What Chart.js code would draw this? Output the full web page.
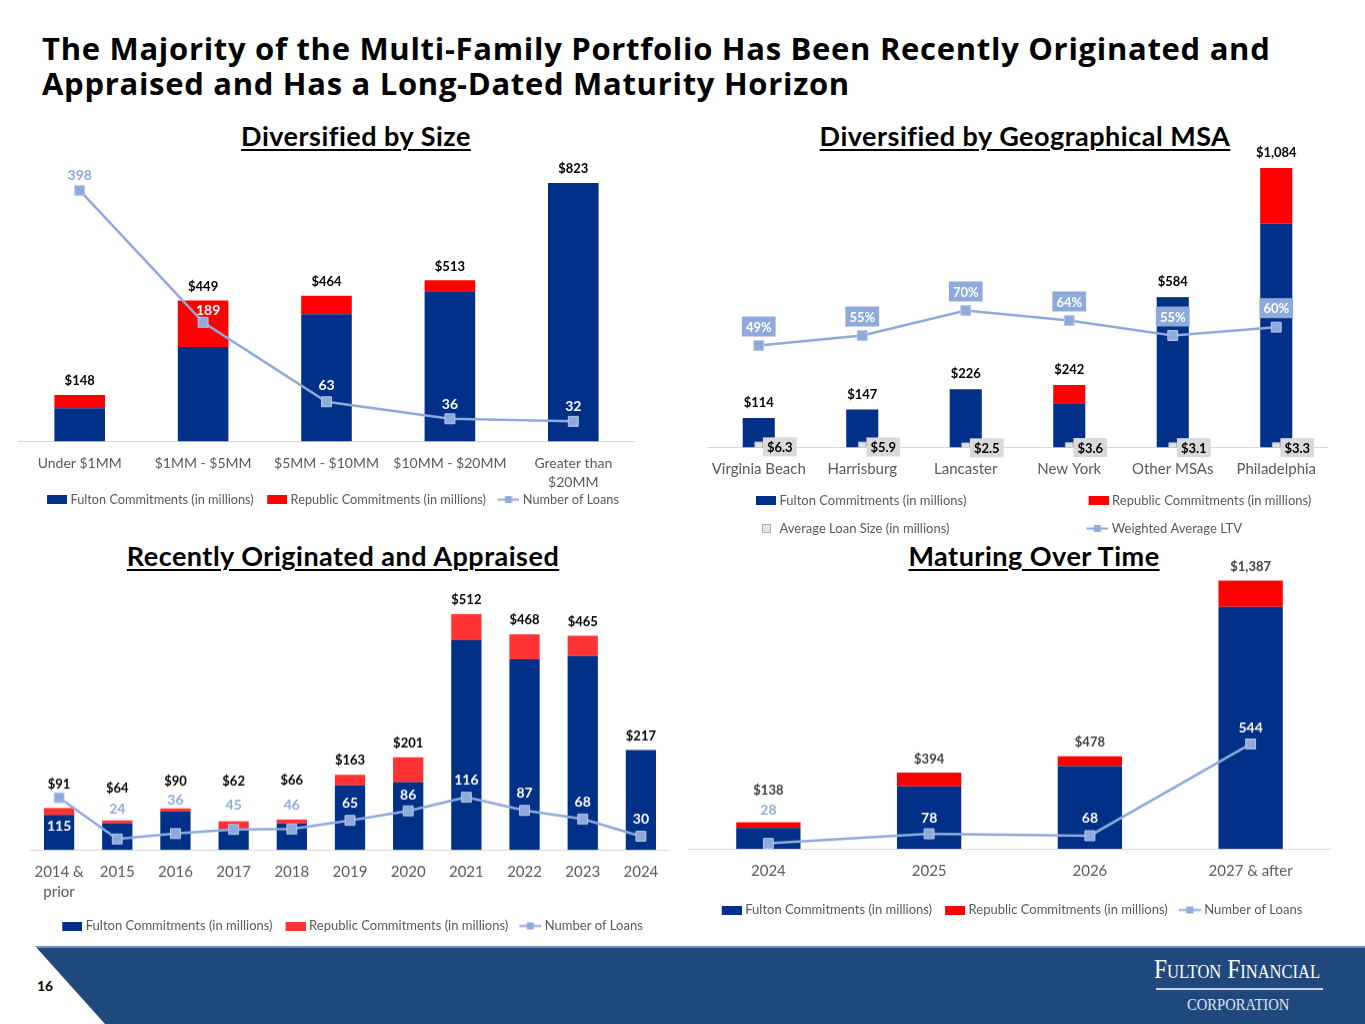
<!DOCTYPE html>
<html lang="en">
<head>
<meta charset="UTF-8">
<title>Multi-Family Portfolio</title>
<script src="https://cdn.jsdelivr.net/npm/chart.js@4.4.1/dist/chart.umd.min.js"></script>
<style>
    html, body { margin: 0; padding: 0; background: #fff; }
    body { width: 1365px; height: 1024px; position: relative; overflow: hidden; font-family: Lato, "Open Sans", sans-serif; }
    .titulo { position: absolute; left: 42px; top: 31px; font-family: "Open Sans", Lato, sans-serif; font-size: 31px; font-weight: 700; line-height: 35px; letter-spacing: 0.7px; color: #000; white-space: nowrap; }
    .subtitulo { position: absolute; width: 600px; text-align: center; font-size: 27px; font-weight: 700; line-height: 30px; letter-spacing: 0.5px; text-decoration: underline; text-underline-offset: 3px; text-decoration-thickness: 2px; white-space: nowrap; }
    .grafico { position: absolute; }
    .pie { position: absolute; left: 0; top: 946px; width: 1365px; height: 78px; background: linear-gradient(#6f8fb5 0, #6f8fb5 2px, #1f497d 2px); clip-path: polygon(35px 0, 1365px 0, 1365px 78px, 105px 78px); }
    .pagina { position: absolute; left: 37px; top: 977px; font-size: 14px; font-weight: 700; color: #000; }
    .logo1 { position: absolute; left: 1154px; top: 954px; font-family: "Liberation Serif", "DejaVu Serif", serif; font-variant: small-caps; font-size: 27px; color: #fff; white-space: nowrap; transform-origin: left top; transform: scaleX(0.87); }
    .logo-linea { position: absolute; left: 1156px; top: 988px; width: 167px; height: 2px; background: #c9d4e3; }
    .logo2 { position: absolute; left: 1187px; top: 995px; font-family: "Liberation Serif", "DejaVu Serif", serif; font-size: 17px; color: #dfe6f0; white-space: nowrap; transform-origin: left top; transform: scaleX(0.86); }
</style>
</head>
<body>
<div class="titulo">The Majority of the Multi-Family Portfolio Has Been Recently Originated and<br>Appraised and Has a Long-Dated Maturity Horizon</div>

<div class="subtitulo" style="left:56px; top:121px;">Diversified by Size</div>
<div class="subtitulo" style="left:725px; top:121px;">Diversified by Geographical MSA</div>
<div class="subtitulo" style="left:43px; top:541px;">Recently Originated and Appraised</div>
<div class="subtitulo" style="left:734px; top:541px;">Maturing Over Time</div>

<div class="grafico" style="left:18px; top:150px; width:617px; height:366px;"><canvas id="grafico-tamano"></canvas></div>
<div class="grafico" style="left:707px; top:140px; width:621px; height:405px;"><canvas id="grafico-msa"></canvas></div>
<div class="grafico" style="left:30px; top:575px; width:640px; height:366.5px;"><canvas id="grafico-anio"></canvas></div>
<div class="grafico" style="left:688px; top:552px; width:643px; height:373.5px;"><canvas id="grafico-vence"></canvas></div>

<div class="pie"></div>
<div class="pagina">16</div>
<div class="logo1">Fulton Financial</div>
<div class="logo-linea"></div>
<div class="logo2">CORPORATION</div>

<script>
// ===== Datos: diversificado por tamaño =====
const categoriasTamano = ['Under $1MM', '$1MM - $5MM', '$5MM - $10MM', '$10MM - $20MM', ['Greater than', '$20MM']];
const fultonTamano = [106, 301, 405, 478, 823];
const republicTamano = [42, 148, 59, 35, 0];
const prestamosTamano = [398, 189, 63, 36, 32];

// ===== Datos: diversificado por MSA =====
const categoriasMsa = ['Virginia Beach', 'Harrisburg', 'Lancaster', 'New York', 'Other MSAs', 'Philadelphia'];
const fultonMsa = [114, 147, 226, 172, 580, 869];
const republicMsa = [0, 0, 0, 70, 4, 215];
const promedioMsa = [6.3, 5.9, 2.5, 3.6, 3.1, 3.3];
const ltvMsa = [49, 55, 70, 64, 55, 60];

// ===== Datos: originados y tasados =====
const categoriasAnio = [['2014 &', 'prior'], '2015', '2016', '2017', '2018', '2019', '2020', '2021', '2022', '2023', '2024'];
const fultonAnio = [76, 57, 83, 45, 57, 140, 147, 455, 414, 421, 217];
const republicAnio = [15, 7, 7, 17, 9, 23, 54, 57, 54, 44, 0];
const prestamosAnio = [115, 24, 36, 45, 46, 65, 86, 116, 87, 68, 30];

// ===== Datos: vencimientos =====
const categoriasVence = ['2024', '2025', '2026', '2027 & after'];
const fultonVence = [107, 323, 428, 1250];
const republicVence = [31, 71, 50, 137];
const prestamosVence = [28, 78, 68, 544];

// Colores
const AZUL = '#003087';
const ROJO = '#ff0000';
const ROJO_CLARO = '#ff3333';
const CELESTE = '#8eaadb';
const GRIS = '#595959';

Chart.defaults.font.family = 'Lato, "Open Sans", sans-serif';
Chart.defaults.color = GRIS;

// Totales de cada barra apilada
const sumar = (a, b) => a.map((v, i) => v + b[i]);
const dinero = (v) => '$' + v.toLocaleString('en-US');

// Iconos de la leyenda (margen transparente a la izquierda, 22px visibles)
function iconoBarra(color, margen) {
    const c = document.createElement('canvas');
    c.width = margen + 22; c.height = 9;
    const g = c.getContext('2d');
    g.fillStyle = color;
    g.fillRect(margen + 2, 0, 20, 9);
    return c;
}
function iconoLinea(color, margen) {
    const c = document.createElement('canvas');
    c.width = margen + 22; c.height = 9;
    const g = c.getContext('2d');
    g.strokeStyle = color; g.lineWidth = 2;
    g.beginPath(); g.moveTo(margen, 4.5); g.lineTo(margen + 22, 4.5); g.stroke();
    g.fillStyle = color;
    g.fillRect(margen + 7.5, 1, 7, 7);
    return c;
}
function iconoCuadro(margen) {
    const c = document.createElement('canvas');
    c.width = margen + 22; c.height = 9;
    const g = c.getContext('2d');
    g.fillStyle = '#e3e3e3'; g.strokeStyle = '#b0b0b0'; g.lineWidth = 1;
    g.fillRect(margen + 8.5, 0.5, 8, 8);
    g.strokeRect(margen + 8.5, 0.5, 8, 8);
    return c;
}

// Rellenar texto de la leyenda con espacios hasta un ancho
const medidor = document.createElement('canvas').getContext('2d');
function rellenar(texto, ancho, fuente) {
    medidor.font = fuente;
    let t = texto;
    while (medidor.measureText(t).width < ancho) t += ' ';
    return t;
}

function leyenda(iconos, relleno, tamano, alinear) {
    return {
        position: 'bottom',
        align: alinear || 'center',
        labels: {
            usePointStyle: true,
            // la imagen sobresale 3px a cada lado: texto mas cerca del icono
            pointStyleWidth: iconos[0].width - 6,
            boxHeight: 9,
            padding: relleno,
            font: { size: tamano },
            color: GRIS,
            generateLabels: (chart) => chart.data.datasets.map((ds, i) => ({
                text: ds.label,
                pointStyle: iconos[i],
                fontColor: GRIS,
                fillStyle: 'transparent',
                strokeStyle: 'transparent',
                lineWidth: 0,
                hidden: false,
                datasetIndex: i
            }))
        }
    };
}

// Eje X; "espacio" separa la leyenda de las etiquetas (titulo vacio)
function ejeX(tamano, alto, espacio) {
    return {
        stacked: true,
        grid: { display: false, drawTicks: true, tickLength: 12 },
        border: { display: true, color: '#d9d9d9', width: 1 },
        ticks: { padding: 0, color: GRIS, font: { size: tamano, lineHeight: alto }, maxRotation: 0, autoSkip: false },
        title: { display: !!espacio, text: '', font: { size: 1, lineHeight: 1 }, padding: { top: (espacio || 1) - 1, bottom: 0 } }
    };
}

// Plugin para dibujar las etiquetas de datos
const pluginEtiquetas = {
    id: 'etiquetas',
    afterDatasetsDraw(chart, args, opts) {
        const ctx = chart.ctx;
        (opts.lista || []).forEach(cfg => {
            const meta = chart.getDatasetMeta(cfg.dataset);
            meta.data.forEach((el, i) => {
                const texto = cfg.textos[i];
                const color = Array.isArray(cfg.color) ? cfg.color[i] : cfg.color;
                const dx = Array.isArray(cfg.dx) ? cfg.dx[i] : (cfg.dx || 0);
                const dy = Array.isArray(cfg.dy) ? cfg.dy[i] : (cfg.dy || 0);
                const x = el.x + dx;
                const y = el.y + dy;
                ctx.save();
                ctx.font = `bold ${cfg.tamano || 13}px Lato, "Open Sans", sans-serif`;
                ctx.textAlign = 'center';
                ctx.textBaseline = 'middle';
                if (cfg.fondo) {
                    const w = ctx.measureText(texto).width + 8;
                    const h = cfg.alto || 20;
                    ctx.fillStyle = cfg.fondo;
                    ctx.fillRect(x - w / 2, y - h / 2, w, h);
                }
                ctx.fillStyle = color;
                ctx.fillText(texto, x, y + 1);
                ctx.restore();
            });
        });
    }
};

const estiloLinea = {
    borderColor: CELESTE,
    borderWidth: 2.5,
    pointStyle: 'rect',
    pointRadius: 7,
    pointBackgroundColor: CELESTE,
    pointBorderColor: '#b8cae8',
    pointBorderWidth: 1,
    tension: 0,
    order: 0
};

// Graficos de barras apiladas + linea de prestamos
function crearGrafico(id, cfg) {
    return new Chart(document.getElementById(id), {
        type: 'bar',
        data: {
            labels: cfg.categorias,
            datasets: [
                { label: 'Fulton Commitments (in millions)', data: cfg.fulton, backgroundColor: AZUL, order: 1, barPercentage: cfg.ancho, categoryPercentage: 1 },
                { label: 'Republic Commitments (in millions)', data: cfg.republic, backgroundColor: cfg.rojo, order: 1, barPercentage: cfg.ancho, categoryPercentage: 1 },
                { type: 'line', label: 'Number of Loans', data: cfg.prestamos, yAxisID: 'y1', ...estiloLinea }
            ]
        },
        options: {
            responsive: true,
            maintainAspectRatio: false,
            animation: false,
            layout: { autoPadding: false, padding: { top: cfg.arriba, left: 0, right: 0, bottom: 0 } },
            scales: {
                x: ejeX(cfg.tamanoEje, cfg.altoLinea, cfg.espacio),
                y: { display: false, stacked: true, min: 0, max: cfg.maxY },
                y1: { display: false, min: 0, max: cfg.maxY1 }
            },
            plugins: {
                legend: leyenda([iconoBarra(AZUL, cfg.margen), iconoBarra(cfg.rojo, cfg.margen), iconoLinea(CELESTE, cfg.margen)], cfg.relleno, cfg.tamanoLeyenda),
                tooltip: { enabled: false },
                etiquetas: {
                    lista: [
                        { dataset: 1, textos: sumar(cfg.fulton, cfg.republic).map(dinero), color: cfg.colorTotal || '#000', dy: cfg.dyTotal },
                        { dataset: 2, textos: cfg.prestamos.map(String), color: cfg.colorPrestamos, dx: cfg.dxPrestamos, dy: cfg.dyPrestamos, tamano: 14 }
                    ]
                }
            }
        },
        plugins: [pluginEtiquetas]
    });
}

window.graficaTamano = crearGrafico('grafico-tamano', {
    categorias: categoriasTamano, fulton: fultonTamano, republic: republicTamano, prestamos: prestamosTamano,
    rojo: ROJO, ancho: 0.41, arriba: 10, tamanoEje: 14, altoLinea: 1.4, maxY: 896, maxY1: 446,
    margen: 14, relleno: 0.5, tamanoLeyenda: 12.75,
    dyTotal: -15,
    colorPrestamos: [CELESTE, '#fff', '#fff', '#fff', '#fff'],
    dxPrestamos: [0, 5, 0, 0, 0],
    dyPrestamos: [-16, -13, -17, -15, -16]
});

window.graficaAnio = crearGrafico('grafico-anio', {
    categorias: categoriasAnio, fulton: fultonAnio, republic: republicAnio, prestamos: prestamosAnio,
    rojo: ROJO_CLARO, ancho: 0.52, arriba: 10, tamanoEje: 15, altoLinea: 1.33, espacio: 9.5, maxY: 575, maxY1: 584,
    margen: 6, relleno: 8, tamanoLeyenda: 13,
    dyTotal: [-24, -33, -28, -41, -40, -15, -15, -15, -15, -15, -15],
    colorPrestamos: ['#fff', CELESTE, CELESTE, CELESTE, CELESTE, '#fff', '#fff', '#fff', '#fff', '#fff', '#fff'],
    dyPrestamos: [27, -31, -34, -25, -25, -18, -17, -18, -18, -18, -18]
});

window.graficaVence = crearGrafico('grafico-vence', {
    categorias: categoriasVence, fulton: fultonVence, republic: republicVence, prestamos: prestamosVence,
    rojo: ROJO, ancho: 0.40, arriba: 13, tamanoEje: 15, altoLinea: 1.3, espacio: 15, maxY: 1467, maxY1: 1472,
    margen: 6, relleno: 8, tamanoLeyenda: 13,
    colorTotal: '#404040',
    dyTotal: [-33, -14, -15, -15],
    colorPrestamos: [CELESTE, '#fff', '#fff', '#fff'],
    dyPrestamos: [-34, -17, -18, -17]
});

// Grafico por MSA (dos lineas: tamaño promedio y LTV)
const fuenteLeyenda = '13px Lato, "Open Sans", sans-serif';
const iconosMsa = [iconoBarra(AZUL, 35), iconoBarra(ROJO, 35), iconoCuadro(35), iconoLinea(CELESTE, 35)];

window.graficaMsa = new Chart(document.getElementById('grafico-msa'), {
    type: 'bar',
    data: {
        labels: categoriasMsa,
        datasets: [
            { label: rellenar('Fulton Commitments (in millions)', 257, fuenteLeyenda), data: fultonMsa, backgroundColor: AZUL, order: 1, barPercentage: 0.31, categoryPercentage: 1 },
            { label: 'Republic Commitments (in millions)', data: republicMsa, backgroundColor: ROJO, order: 1, barPercentage: 0.31, categoryPercentage: 1 },
            {
                type: 'line', label: rellenar('Average Loan Size (in millions)', 257, fuenteLeyenda), data: promedioMsa, stack: 'promedio',
                showLine: false, pointStyle: 'rect', pointRadius: 5.5, pointBackgroundColor: '#e3e3e3',
                pointBorderColor: '#b0b0b0', pointBorderWidth: 1, order: 0
            },
            { type: 'line', label: 'Weighted Average LTV', data: ltvMsa, yAxisID: 'y1', ...estiloLinea }
        ]
    },
    options: {
        responsive: true,
        maintainAspectRatio: false,
        animation: false,
        layout: { autoPadding: false, padding: { top: 20, left: 0, right: 0, bottom: 0 } },
        scales: {
            x: ejeX(15, 1.3),
            y: { display: false, stacked: true, min: 0, max: 1115 },
            y1: { display: false, min: -12, max: 160 }
        },
        plugins: {
            legend: leyenda(iconosMsa, 15, 13, 'start'),
            tooltip: { enabled: false },
            etiquetas: {
                lista: [
                    { dataset: 1, textos: sumar(fultonMsa, republicMsa).map(dinero), color: '#000', dy: -16 },
                    { dataset: 2, textos: promedioMsa.map(v => '$' + v.toFixed(1)), color: '#000', dx: 21, dy: 1, fondo: '#d9d9d9', alto: 19 },
                    { dataset: 3, textos: ltvMsa.map(v => v + '%'), color: '#fff', dy: -19, fondo: CELESTE, alto: 20 }
                ]
            }
        }
    },
    plugins: [pluginEtiquetas]
});
</script>
</body>
</html>
